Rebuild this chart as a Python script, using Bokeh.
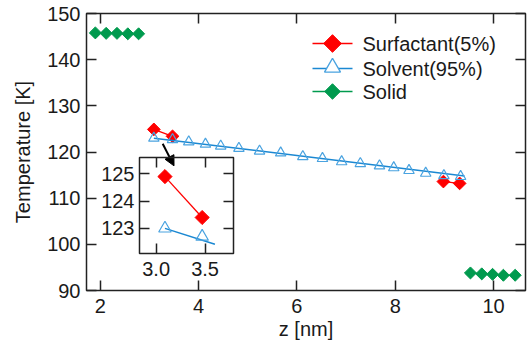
from bokeh.plotting import figure
from bokeh.models import (LinearAxis, FixedTicker, Range1d, Arrow, NormalHead,
                          GridBox, PrintfTickFormatter, CustomJSTickFormatter)
from bokeh.core.properties import value
from bokeh.embed import file_html
from bokeh.resources import INLINE
import math

# ---------------- data ----------------
surf_left_z = [3.09, 3.47]
surf_left_T = [124.9, 123.4]
surf_right_z = [8.98, 9.31]
surf_right_T = [113.6, 113.2]

solvent_z = [3.09, 3.47, 3.80, 4.14, 4.45, 4.82, 5.24, 5.67, 6.12, 6.52,
             6.91, 7.29, 7.68, 7.97, 8.28, 8.62, 8.99, 9.33]
solvent_T = [123.0, 122.7, 122.2, 121.7, 121.3, 120.8, 120.2, 119.8, 119.0, 118.6,
             117.9, 117.5, 117.0, 116.6, 116.0, 115.4, 114.9, 114.7]
solvent_fit_z = [3.09, 9.41]
solvent_fit_T = [123.0, 114.8]
inset_fit_z = [3.09, 3.60]
inset_fit_T = [123.0, 122.42]

solid_left_z = [1.90, 2.12, 2.34, 2.56, 2.78]
solid_left_T = [145.8, 145.7, 145.7, 145.6, 145.6]
solid_right_z = [9.53, 9.76, 9.98, 10.20, 10.44]
solid_right_T = [93.8, 93.6, 93.5, 93.3, 93.3]

series_names = ["Surfactant(5%)", "Solvent(95%)", "Solid"]

x_ticks = [2, 4, 6, 8, 10]
y_ticks = [90, 100, 110, 120, 130, 140, 150]
inset_x_ticks = [3.0, 3.5]
inset_y_ticks = [123, 124, 125]

arrow_start = (3.27, 121.8)
arrow_end = (3.50, 117.0)

# ---------------- style ----------------
FONT = "Liberation Sans"
TXT = "#1a1a1a"
FRAME = "#222222"
RED = "#ff0000"
BLUE_LINE = "#1b88d2"
BLUE_MARK = "#4aa3e0"
GREEN = "#009a4e"
ANG = math.pi / 4

W, H = 528, 347
ML, MR, MT, MB = 86, 3, 13, 57
FRAME_W, FRAME_H = W - ML - MR, H - MT - MB

# manual legend layout (pixels inside the frame, from its top-left)
LEG_ROWS = [30, 55, 78]
LEG_LINE_X = [226, 266]
LEG_MARK_X = 246
LEG_TEXT_X = 276


def style_axis(ax, ticks, labels=True, fmt=None):
    ax.ticker = FixedTicker(ticks=ticks)
    ax.major_tick_in = 10
    ax.major_tick_out = 0
    ax.minor_tick_in = 0
    ax.minor_tick_out = 0
    ax.major_tick_line_color = FRAME
    ax.major_tick_line_width = 1.5
    ax.axis_line_color = None
    ax.major_label_text_font = FONT
    ax.major_label_text_color = TXT
    ax.axis_label_text_font = FONT
    ax.axis_label_text_color = TXT
    ax.axis_label_text_font_style = "normal"
    ax.axis_label_text_font_size = "20px"
    if fmt is not None:
        ax.formatter = fmt
    if labels:
        ax.major_label_text_font_size = "20px"
    else:
        ax.formatter = CustomJSTickFormatter(code="return ''")
        ax.major_label_text_font_size = "0px"
        ax.major_label_standoff = 0


# ---------------- main figure ----------------
p = figure(width=W, height=H, x_range=Range1d(1.72, 10.65),
           y_range=Range1d(90, 150), output_backend="svg",
           toolbar_location=None, min_border_left=ML, min_border_right=MR,
           min_border_top=MT, min_border_bottom=MB,
           x_axis_label="z [nm]", y_axis_label="Temperature [K]")
p.grid.visible = False
p.outline_line_color = FRAME
p.outline_line_width = 1.5
p.background_fill_color = "white"
p.border_fill_color = "white"
p.extra_x_ranges = {"px": Range1d(0, FRAME_W)}
p.extra_y_ranges = {"px": Range1d(FRAME_H, 0)}

style_axis(p.xaxis[0], x_ticks)
p.xaxis[0].major_label_standoff = 8
p.xaxis[0].axis_label_standoff = 2
style_axis(p.yaxis[0], y_ticks)
p.yaxis[0].major_label_standoff = 6
p.yaxis[0].axis_label_standoff = 10

top_ax = LinearAxis()
style_axis(top_ax, x_ticks, labels=False)
p.add_layout(top_ax, "above")
right_ax = LinearAxis()
style_axis(right_ax, y_ticks, labels=False)
p.add_layout(right_ax, "right")

# Surfactant
for zz, tt in ((surf_left_z, surf_left_T), (surf_right_z, surf_right_T)):
    p.line(zz, tt, color=RED, line_width=1.3)
    p.scatter(zz, tt, marker="square", angle=ANG, size=9, fill_color=RED,
              line_color=RED)

# Solvent
p.line(solvent_fit_z, solvent_fit_T, color=BLUE_LINE, line_width=1.5)
p.scatter(solvent_z, solvent_T, marker="triangle", size=10.5, fill_color=None,
          line_color=BLUE_MARK, line_width=1.2)

# Solid
for zz, tt in ((solid_left_z, solid_left_T), (solid_right_z, solid_right_T)):
    p.line(zz, tt, color=GREEN, line_width=1.3)
    p.scatter(zz, tt, marker="square", angle=ANG, size=8.5, fill_color=GREEN,
              line_color=GREEN)

p.add_layout(Arrow(end=NormalHead(size=10, fill_color="black", line_color="black"),
                   x_start=arrow_start[0], y_start=arrow_start[1],
                   x_end=arrow_end[0], y_end=arrow_end[1],
                   line_color="black", line_width=2))

# ---------------- legend (drawn in frame pixel space) ----------------
leg_colors = [RED, BLUE_LINE, GREEN]
for yy, col in zip(LEG_ROWS, leg_colors):
    p.line(LEG_LINE_X, [yy, yy], color=col, line_width=1.5,
           x_range_name="px", y_range_name="px")
p.scatter([LEG_MARK_X], [LEG_ROWS[0]], marker="square", angle=ANG, size=12.5,
          fill_color=RED, line_color=RED, x_range_name="px", y_range_name="px")
p.scatter([LEG_MARK_X], [LEG_ROWS[1] - 1], marker="triangle", size=16,
          fill_color="white", line_color=BLUE_MARK, line_width=1.4,
          x_range_name="px", y_range_name="px")
p.scatter([LEG_MARK_X], [LEG_ROWS[2]], marker="square", angle=ANG, size=11,
          fill_color=GREEN, line_color=GREEN, x_range_name="px", y_range_name="px")
p.text(x=[LEG_TEXT_X] * 3, y=LEG_ROWS, text=series_names,
       text_font=value(FONT), text_font_size="20px", text_color=TXT,
       text_baseline="middle", text_align="left",
       x_range_name="px", y_range_name="px")

# ---------------- inset ----------------
q = figure(width=137, height=128, x_range=Range1d(2.83, 3.79),
           y_range=Range1d(122.08, 125.6), output_backend="svg",
           toolbar_location=None, min_border_left=40, min_border_right=2,
           min_border_top=2, min_border_bottom=30)
q.grid.visible = False
q.outline_line_color = FRAME
q.outline_line_width = 1.5
q.background_fill_color = None
q.border_fill_color = None
style_axis(q.xaxis[0], inset_x_ticks, fmt=PrintfTickFormatter(format="%.1f"))
q.xaxis[0].major_label_standoff = 8
style_axis(q.yaxis[0], inset_y_ticks)
q.yaxis[0].major_label_standoff = 5
q_top = LinearAxis()
style_axis(q_top, inset_x_ticks, labels=False)
q.add_layout(q_top, "above")
q_right = LinearAxis()
style_axis(q_right, inset_y_ticks, labels=False)
q.add_layout(q_right, "right")

q.line(surf_left_z, surf_left_T, color=RED, line_width=1.3)
q.scatter(surf_left_z, surf_left_T, marker="square", angle=ANG, size=10,
          fill_color=RED, line_color=RED)
q.line(inset_fit_z, inset_fit_T, color=BLUE_LINE, line_width=1.5)
q.scatter(solvent_z[:2], solvent_T[:2], marker="triangle", size=12.5,
          fill_color=None, line_color=BLUE_MARK, line_width=1.2)

layout = GridBox(children=[(p, 0, 0, 3, 3), (q, 1, 1, 1, 1)],
                 rows=["155px", "128px", "64px"],
                 cols=["98px", "137px", "293px"])

open("out.html", "w").write(file_html(layout, INLINE))
